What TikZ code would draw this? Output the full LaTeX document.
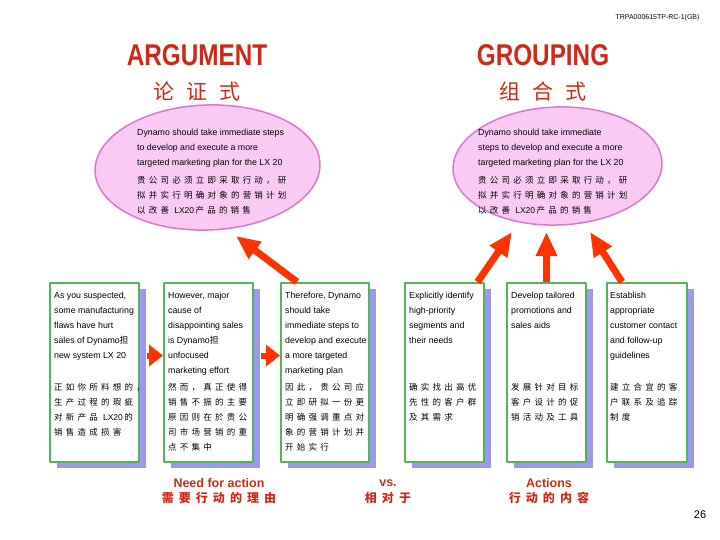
\documentclass[tikz,border=0pt]{standalone}
\usepackage{fontspec}
\usepackage{graphicx}
\setmainfont{Liberation Sans}
\newfontfamily\zhplain{Noto Sans CJK SC}
\newfontfamily\zh[LetterSpace=38]{Noto Sans CJK SC}
\newfontfamily\zhcap[LetterSpace=42]{Noto Sans CJK SC}
\newfontfamily\zhtitle[LetterSpace=55]{Noto Sans CJK SC}
\usetikzlibrary{arrows.meta,shapes.geometric,shadows,positioning}
\definecolor{titlered}{RGB}{208,40,24}
\definecolor{flowred}{RGB}{255,51,0}
\definecolor{boxgreen}{RGB}{88,178,88}
\definecolor{shadowblue}{RGB}{153,153,238}
\definecolor{bubblefill}{RGB}{250,202,245}
\definecolor{bubbleline}{RGB}{222,118,208}
\begin{document}
\begin{tikzpicture}[x=1pt,y=-1pt,line join=round,
	bubble/.style={ellipse,draw=bubbleline,line width=1.5pt,fill=bubblefill,inner sep=0pt,rotate=2},
	card/.style={draw=boxgreen,line width=2pt,fill=white,minimum height=179pt,inner sep=0pt,
		drop shadow={shadow xshift=7pt,shadow yshift=-6pt,fill=shadowblue,opacity=1}},
	entext/.style={inner sep=0pt,align=left,font=\fontsize{8.8}{15}\selectfont},
	zhtext/.style={inner sep=0pt,align=left,font=\zh\fontsize{8.5}{15}\selectfont},
	heading/.style={text=titlered,font=\bfseries\fontsize{30}{30}\selectfont},
	subheading/.style={text=titlered,font=\zhtitle\fontsize{21}{21}\selectfont},
	caption/.style={text=titlered,font=\bfseries\fontsize{12.5}{12.5}\selectfont},
	zhcaption/.style={text=titlered,font=\zhcap\bfseries\fontsize{12}{12}\selectfont},
	upflow/.style={draw=flowred,line width=7pt,-{Triangle[length=24pt,width=20pt]}},
	sideflow/.style={draw=flowred,line width=6pt,shorten <=7pt,-{Triangle[length=14pt,width=21pt]}}]
	\useasboundingbox (0,0) rectangle (720,540);
	% Header
	\node[anchor=east,font=\fontsize{7}{7}\selectfont] (code) at (703,18) {TRPA000615TP-RC-1(GB)};
	\node[font=\fontsize{11}{11}\selectfont] (page) at (700,515) {26};
	% Titles
	\node[heading] (argue) at (197,55) {\scalebox{0.81}[1]{ARGUMENT}};
	\node[subheading] (arguezh) at (197,92) {论证式};
	\node[heading] (group) at (543,55) {\scalebox{0.81}[1]{GROUPING}};
	\node[subheading] (groupzh) at (543,92) {组合式};
	% Main points
	\node[bubble,minimum width=225pt,minimum height=125pt] (argu) at (207.5,167.5) {};
	\node[bubble,minimum width=209pt,minimum height=118pt] (grp) at (557.5,166) {};
	\node[entext,anchor=north west] (arguen) at (137,129)
		{Dynamo should take immediate steps\\to develop and execute a more\\targeted marketing plan for the LX 20};
	\node[zhtext,anchor=north west] (arguzh) at (137,176)
		{贵公司必须立即采取行动，研\\拟并实行明确对象的营销计划\\以改善 {\normalfont LX20}\,产品的销售};
	\node[entext,anchor=north west] (grpen) at (478,129)
		{Dynamo should take immediate\\steps to develop and execute a more\\targeted marketing plan for the LX 20};
	\node[zhtext,anchor=north west] (grpzh) at (478,176)
		{贵公司必须立即采取行动，研\\拟并实行明确对象的营销计划\\以改善 {\normalfont LX20}\,产品的销售};
	% Supporting boxes
	\foreach \n/\x/\w in {b1/94.5/89,b2/208.5/89,b3/325/88,b4/444.5/79,b5/546.5/79,b6/647/80}
		\node[card,minimum width=\w pt] (\n) at (\x,372.5) {};
	\node[entext,below right=10pt and 5pt of b1.north west] (b1en)
		{As you suspected,\\some manufacturing\\flaws have hurt\\sales of Dynamo{\zhplain 担}\\new system LX 20};
	\node[zhtext,below right=101pt and 5pt of b1.north west] (b1zh)
		{正如你所料想的，\\生产过程的瑕疵\\对新产品 {\normalfont LX20}\,的\\销售造成损害};
	\node[entext,below right=10pt and 5pt of b2.north west] (b2en)
		{However, major\\cause of\\disappointing sales\\is Dynamo{\zhplain 担}\\unfocused\\marketing effort};
	\node[zhtext,below right=101pt and 5pt of b2.north west] (b2zh)
		{然而，真正使得\\销售不振的主要\\原因则在於贵公\\司市场营销的重\\点不集中};
	\node[entext,below right=10pt and 5pt of b3.north west] (b3en)
		{Therefore, Dynamo\\should take\\immediate steps to\\develop and execute\\a more targeted\\marketing plan};
	\node[zhtext,below right=101pt and 5pt of b3.north west] (b3zh)
		{因此，贵公司应\\立即研拟一份更\\明确强调重点对\\象的营销计划并\\开始实行};
	\node[entext,below right=10pt and 5pt of b4.north west] (b4en)
		{Explicitly identify\\high-priority\\segments and\\their needs};
	\node[zhtext,below right=101pt and 5pt of b4.north west] (b4zh)
		{确实找出高优\\先性的客户群\\及其需求};
	\node[entext,below right=10pt and 5pt of b5.north west] (b5en)
		{Develop tailored\\promotions and\\sales aids};
	\node[zhtext,below right=101pt and 5pt of b5.north west] (b5zh)
		{发展针对目标\\客户设计的促\\销活动及工具};
	\node[entext,below right=10pt and 4pt of b6.north west] (b6en)
		{Establish\\appropriate\\customer contact\\and follow-up\\guidelines};
	\node[zhtext,below right=101pt and 4pt of b6.north west] (b6zh)
		{建立合宜的客\\户联系及追踪\\制度};
	% Arrows
	\path (236,236) coordinate (tipA)
		(512,232) coordinate (tipB)
		(546.5,232) coordinate (tipC)
		(590,232) coordinate (tipD);
	\draw[sideflow] ([yshift=17pt]b1.east) -- ([yshift=17pt]b2.west);
	\draw[sideflow] ([yshift=17pt]b2.east) -- ([yshift=17pt]b3.west);
	\draw[upflow] ([xshift=-28pt]b3.north) -- (tipA);
	\draw[upflow] ([xshift=33pt]b4.north) -- (tipB);
	\draw[upflow] (b5.north) -- (tipC);
	\draw[upflow] ([xshift=-25pt]b6.north) -- (tipD);
	% Captions
	\node[caption] (needen) at (219,483) {Need for action};
	\node[zhcaption] (needzh) at (219,498) {需要行动的理由};
	\node[caption] (vsen) at (388,483) {vs.};
	\node[zhcaption] (vszh) at (388,498) {相对于};
	\node[caption] (acten) at (549,483) {Actions};
	\node[zhcaption] (actzh) at (549,498) {行动的内容};
\end{tikzpicture}
\end{document}
